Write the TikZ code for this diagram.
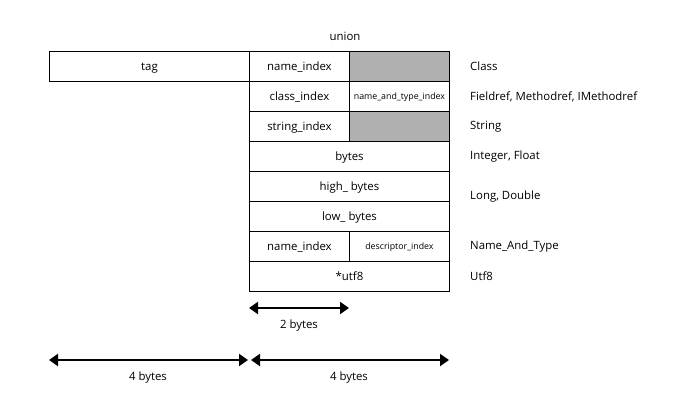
\documentclass[tikz,border=0pt]{standalone}
\usepackage{fontspec}
\setmainfont{Open Sans}
\usetikzlibrary{arrows.meta}
\definecolor{cellgray}{HTML}{B0B0B0}
\begin{document}
\begin{tikzpicture}[x=1pt,y=-1pt,
  cell/.style={draw=black,line width=0.9pt,minimum height=30pt,inner sep=0pt,anchor=north west,text height=9pt,text depth=0pt,font=\fontsize{11.4}{13}\selectfont},
  half/.style={cell,minimum width=100pt},
  full/.style={cell,minimum width=200pt},
  shade/.style={half,fill=cellgray},
  small/.style={font=\fontsize{8.8}{10}\selectfont,text height=6.5pt},
  lbl/.style={anchor=west,inner sep=0pt,font=\fontsize{11.4}{13}\selectfont},
  dim/.style={line width=2pt,{Triangle[length=9pt,width=12pt]}-{Triangle[length=9pt,width=12pt]}},
  dimlbl/.style={inner sep=0pt,font=\fontsize{11.4}{13}\selectfont}]
\useasboundingbox (0,0) rectangle (680,400);
\node[inner sep=0pt,font=\fontsize{11.4}{13}\selectfont] (union) at (345,36) {union};
\node[full] (tag) at (49,50.5) {tag};
\node[half] (ni) at (249,50.5) {name\_index};
\node[shade] (g1) at (349,50.5) {};
\node[half] (ci) at (249,80.5) {class\_index};
\node[half,small] (nti) at (349,80.5) {name\_and\_type\_index};
\node[half] (si) at (249,110.5) {string\_index};
\node[shade] (g2) at (349,110.5) {};
\node[full] (by) at (249,140.5) {bytes};
\node[full] (hb) at (249,170.5) {high\_ bytes};
\node[full] (lb) at (249,200.5) {low\_ bytes};
\node[half] (ni2) at (249,230.5) {name\_index};
\node[half,small] (di) at (349,230.5) {descriptor\_index};
\node[full] (utf) at (249,260.5) {*utf8};
\node[lbl] (l1) at (470,66.5) {Class};
\node[lbl] (l2) at (470,96.5) {Fieldref, Methodref, IMethodref};
\node[lbl] (l3) at (470,126.5) {String};
\node[lbl] (l4) at (470,156.5) {Integer, Float};
\node[lbl] (l5) at (470,196.5) {Long, Double};
\node[lbl] (l6) at (470,246.5) {Name\_And\_Type};
\node[lbl] (l7) at (470,276.5) {Utf8};
\coordinate (a1) at (249,308);
\coordinate (a2) at (349,308);
\coordinate (b1) at (49,360);
\coordinate (b2) at (248,360);
\coordinate (c1) at (251,360);
\coordinate (c2) at (449,360);
\draw[dim] (a1) -- (a2);
\draw[dim] (b1) -- (b2);
\draw[dim] (c1) -- (c2);
\node[dimlbl] (t2) at (299,326) {2 bytes};
\node[dimlbl] (t4a) at (148,378) {4 bytes};
\node[dimlbl] (t4b) at (349,378) {4 bytes};
\end{tikzpicture}
\end{document}
